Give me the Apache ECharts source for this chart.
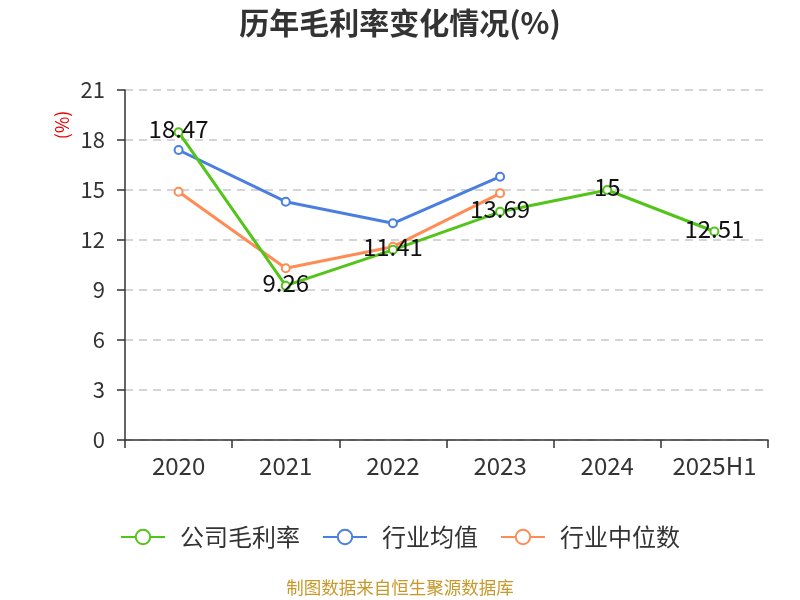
<!DOCTYPE html>
<html>
<head>
<meta charset="utf-8">
<script src="https://cdn.jsdelivr.net/npm/echarts@6/dist/echarts.min.js"></script>
<style>
  html, body { margin: 0; padding: 0; background: #fff; }
  #chart { width: 800px; height: 600px; }
</style>
</head>
<body>
<div id="chart"></div>
<script>
// 历年毛利率：公司 vs 行业均值 / 中位数
const years = ["2020", "2021", "2022", "2023", "2024", "2025H1"];
const company = [18.47, 9.26, 11.41, 13.69, 15, 12.51];
const industryAvg = [17.4, 14.3, 13.0, 15.8, null, null];
const industryMid = [14.9, 10.3, 11.6, 14.8, null, null];
const yTicks = { min: 0, max: 21, interval: 3 };

const FONT = "'Noto Sans CJK SC', 'Noto Sans', sans-serif";

function lineSeries(name, data, color, withLabel) {
  return {
    name, type: "line", data,
    symbol: "emptyCircle", symbolSize: 8,
    lineStyle: { width: 3, color },
    itemStyle: { color, borderWidth: 2 },
    label: withLabel
      ? { show: true, position: "inside", offset: [0, -3], color: "#111", fontSize: 24, fontFamily: FONT }
      : { show: false },
    z: withLabel ? 3 : 2,
  };
}

const chart = echarts.init(document.getElementById("chart"));
chart.setOption({
  backgroundColor: "#fff",
  animation: false,
  title: {
    text: "历年毛利率变化情况(%)", left: "center", top: 3,
    textStyle: { fontSize: 30, fontWeight: "bold", color: "#333", fontFamily: FONT },
  },
  legend: {
    bottom: 46, itemWidth: 44, itemHeight: 18, itemGap: 22,
    textStyle: { fontSize: 24, color: "#333", fontFamily: FONT, padding: [0, 0, 0, 10] },
    data: ["公司毛利率", "行业均值", "行业中位数"],
  },
  graphic: [
    {
      type: "text", x: 62, y: 125, rotation: Math.PI / 2,
      style: { text: "(%)", fill: "#e00", fontSize: 18, fontFamily: FONT, align: "center", verticalAlign: "middle" },
    },
    {
      type: "text", left: "center", top: 579,
      style: { text: "制图数据来自恒生聚源数据库", fill: "#c8992a", fontSize: 17.5, fontFamily: FONT },
    },
  ],
  grid: { left: 125, right: 32, top: 90, bottom: 160 },
  xAxis: {
    type: "category", data: years,
    axisLine: { lineStyle: { color: "#333", width: 1.5 } },
    axisTick: { show: true, interval: 0, length: 8, lineStyle: { color: "#333", width: 1.5 } },
    axisLabel: { interval: 0, fontSize: 24, color: "#333", margin: 14, fontFamily: FONT },
  },
  yAxis: {
    type: "value", ...yTicks,
    axisLine: { show: true, lineStyle: { color: "#333", width: 1.5 } },
    axisTick: { show: true, length: 8, lineStyle: { color: "#333", width: 1.5 } },
    axisLabel: { fontSize: 22, color: "#333", margin: 20, fontFamily: FONT },
    splitLine: { lineStyle: { type: [8, 6], color: "#c8c8c8", width: 1.5 } },
  },
  series: [
    lineSeries("公司毛利率", company, "#52c41a", true),
    lineSeries("行业均值", industryAvg, "#4a7fe0", false),
    lineSeries("行业中位数", industryMid, "#ff8c55", false),
  ],
});
</script>
</body>
</html>
